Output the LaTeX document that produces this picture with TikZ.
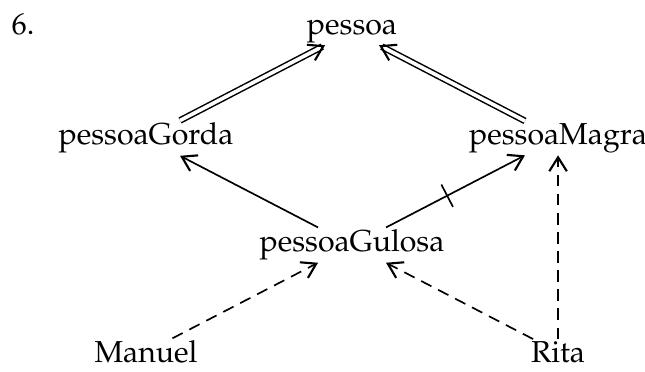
\documentclass[tikz,border=0pt]{standalone}
\usepackage[T1]{fontenc}
\usepackage{mathpazo}
\usepackage{tikz}
\usetikzlibrary{arrows.meta}

\begin{document}
\begin{tikzpicture}[x=68pt,y=35.3pt,
    ponta/.style={-{Straight Barb[length=4.6pt,width=5.8pt,line width=0.7pt]}},
    dupla/.style={double, double distance=1.2pt, line width=0.5pt},
    tracejado/.style={dash pattern=on 3.8pt off 2.5pt}]

        \useasboundingbox (-48.2pt,-6.3pt) rectangle (164.7pt,116.2pt);

        \begin{scope}[every node/.style={inner sep=0.6pt}]
          \node (pessoa) at (1,3) {pessoa};
          \node (gorda)  at (0,2) {pessoaGorda};
          \node (magra)  at (2,2) {pessoaMagra};
          \node (gulosa) at (1,1) {pessoaGulosa};
          \node (manuel) at (0,0) {Manuel};
          \node (rita)   at (2,0) {Rita};
        \end{scope}

        \node[anchor=base west, inner sep=0pt] (num) at (-0.655,0 |- pessoa.base) {6.};

        \begin{scope}[every edge/.style={draw, line width=0.55pt, ponta}]
          \path (gorda)  edge[dupla] (pessoa);
          \path (magra)  edge[dupla] (pessoa);
          \path (gulosa) edge (gorda);
          \path (gulosa) edge node[pos=0.44, sloped, draw, rectangle,
                                   minimum width=0pt, minimum height=8.3pt,
                                   inner sep=0pt] (barra) {} (magra);
          \path (manuel) edge[tracejado] (gulosa);
          \path (rita)   edge[tracejado] (gulosa);
          \path (rita)   edge[tracejado] (magra);
        \end{scope}

      \end{tikzpicture}
\end{document}
